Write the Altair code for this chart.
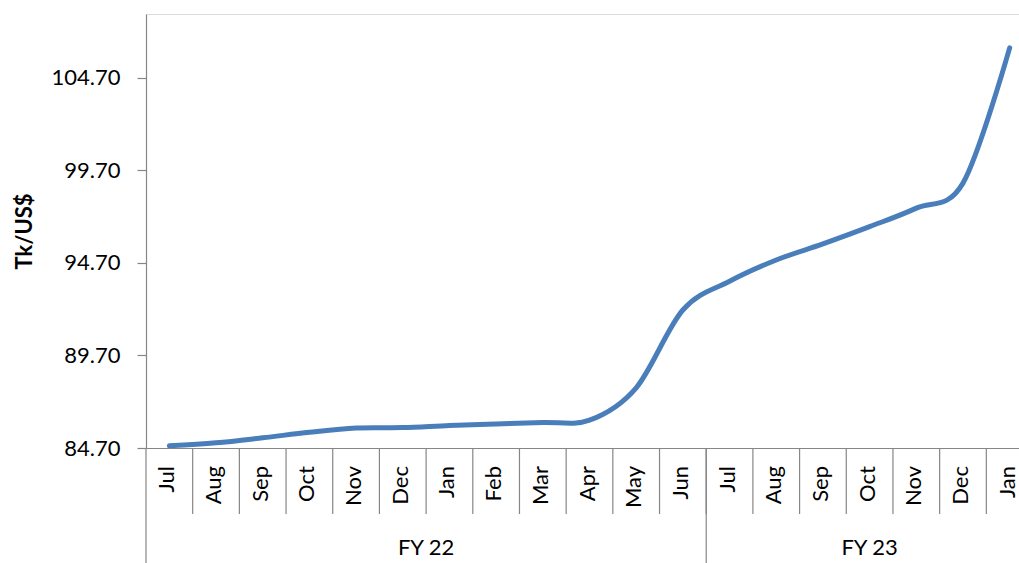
import altair as alt
import pandas as pd

months = ["Jul", "Aug", "Sep", "Oct", "Nov", "Dec", "Jan", "Feb", "Mar", "Apr", "May", "Jun",
          "Jul", "Aug", "Sep", "Oct", "Nov", "Dec", "Jan"]
rates = [84.82, 84.98, 85.25, 85.55, 85.78, 85.80, 85.92, 86.00, 86.08, 86.20, 87.95, 92.15,
         93.70, 94.85, 95.72, 96.65, 97.65, 99.00, 106.30]
fiscal_years = ["FY 22", "FY 22", "FY 22", "FY 22", "FY 22", "FY 22", "FY 22", "FY 22", "FY 22",
                "FY 22", "FY 22", "FY 22", "FY 23", "FY 23", "FY 23", "FY 23", "FY 23", "FY 23", "FY 23"]
y_ticks = [84.70, 89.70, 94.70, 99.70, 104.70]

df = pd.DataFrame({
    "idx": list(range(len(months))),
    "month": months,
    "rate": rates,
    "fy": fiscal_years,
})

W, H = 873, 434
FONT = "Lato"
GRAY = "#868686"

xscale = alt.Scale(domain=[-0.5, 18.2], nice=False, zero=False)
yscale = alt.Scale(domain=[84.7, 108.13], nice=False, zero=False)

base = alt.Chart(df)

line = base.mark_line(
    interpolate="cardinal", tension=0, strokeWidth=5, color="#4a7ebb", strokeCap="round"
).encode(
    x=alt.X("idx:Q", scale=xscale,
            axis=alt.Axis(labels=False, ticks=False, title=None, grid=False,
                          domainColor=GRAY, domainWidth=1.2)),
    y=alt.Y("rate:Q", scale=yscale,
            axis=alt.Axis(values=y_ticks, format=".2f", grid=False, title="Tk/US$",
                          titleFont=FONT, titleFontSize=22, titleFontWeight="bold",
                          titleColor="black", titleAngle=270, titleX=-122, titleY=H / 2,
                          titleAlign="center", titleBaseline="middle",
                          labelFont=FONT, labelFontSize=22, labelColor="black",
                          labelPadding=17, tickSize=9, tickColor=GRAY, domainColor=GRAY,
                          domainWidth=1.2, tickWidth=1.2)),
)

# separators between month categories
seps = base.transform_filter("datum.idx < 18").transform_calculate(
    pos="datum.idx + 0.5"
).mark_rule(color=GRAY, strokeWidth=1.2).encode(
    x=alt.X("pos:Q", scale=xscale),
    y=alt.value(H),
    y2=alt.value(H + 66),
)

# month labels
mlabels = base.mark_text(
    angle=270, align="right", baseline="middle", font=FONT, fontSize=22, color="black", dy=-2
).encode(
    x=alt.X("idx:Q", scale=xscale),
    y=alt.value(H + 18),
    text="month:N",
)

# fiscal year group separators
gseps = base.transform_aggregate(
    first="min(idx)", groupby=["fy"]
).transform_calculate(
    pos="datum.first - 0.5"
).mark_rule(color=GRAY, strokeWidth=1.2).encode(
    x=alt.X("pos:Q", scale=xscale),
    y=alt.value(H),
    y2=alt.value(H + 140),
)

# fiscal year labels
glabels = base.transform_aggregate(
    first="min(idx)", last="max(idx)", groupby=["fy"]
).transform_calculate(
    mid="(datum.first + datum.last) / 2"
).mark_text(
    align="center", baseline="middle", font=FONT, fontSize=22, color="black"
).encode(
    x=alt.X("mid:Q", scale=xscale),
    y=alt.value(H + 100),
    text="fy:N",
)

chart = alt.layer(line, seps, mlabels, gseps, glabels).properties(
    width=W, height=H,
    autosize=alt.AutoSizeParams(type="none"),
    padding={"left": 146, "top": 14, "right": 0, "bottom": 115},
).configure_view(strokeWidth=0).configure(background="white")

chart.save("out.html", embed_options={"renderer": "svg", "actions": False})
